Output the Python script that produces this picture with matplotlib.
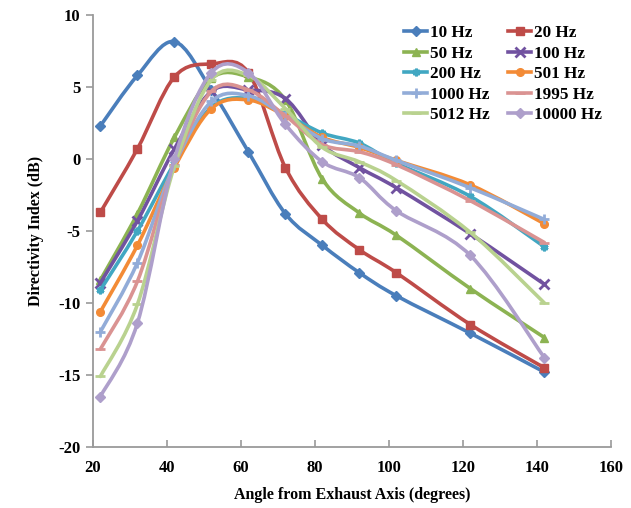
import numpy as np
import matplotlib
matplotlib.use("Agg")
import matplotlib.pyplot as plt
from matplotlib.path import Path
from matplotlib.patches import PathPatch
from matplotlib.lines import Line2D

# angle from exhaust axis (degrees)
angles = [22, 32, 42, 52, 62, 72, 82, 92, 102, 122, 142]

# directivity index (dB) per band
hz_10 = [2.3, 5.8, 8.15, 4.8, 0.5, -3.8, -6.0, -7.9, -9.5, -12.1, -14.8]
hz_20 = [-3.7, 0.7, 5.7, 6.6, 6.0, -0.6, -4.2, -6.3, -7.9, -11.5, -14.5]
hz_50 = [-8.4, -3.8, 1.5, 5.6, 5.7, 4.1, -1.4, -3.75, -5.3, -9.0, -12.4]
hz_100 = [-8.6, -4.3, 0.7, 4.7, 4.8, 4.2, 1.0, -0.6, -2.0, -5.2, -8.7]
hz_200 = [-9.1, -5.0, -0.3, 3.6, 4.2, 3.1, 1.8, 1.1, -0.3, -2.6, -6.1]
hz_501 = [-10.6, -6.0, -0.6, 3.5, 4.1, 3.0, 1.5, 0.8, -0.1, -1.8, -4.5]
hz_1000 = [-12.0, -7.2, -0.4, 4.0, 4.4, 3.0, 1.4, 0.9, -0.1, -2.0, -4.2]
hz_1995 = [-13.2, -8.5, -0.4, 4.7, 4.8, 3.0, 1.0, 0.5, -0.4, -2.9, -5.8]
hz_5012 = [-15.1, -10.1, -0.5, 5.5, 5.8, 3.5, 0.8, -0.2, -1.5, -5.1, -10.0]
hz_10000 = [-16.5, -11.4, 0.0, 6.0, 6.0, 2.4, -0.2, -1.3, -3.6, -6.7, -13.8]

labels = ["10 Hz", "20 Hz", "50 Hz", "100 Hz", "200 Hz", "501 Hz",
          "1000 Hz", "1995 Hz", "5012 Hz", "10000 Hz"]
series = [hz_10, hz_20, hz_50, hz_100, hz_200, hz_501,
          hz_1000, hz_1995, hz_5012, hz_10000]
colors = ["#4A7EBB", "#BE4B48", "#8CB352", "#7152A0", "#41A7C2", "#F38B36",
          "#92ACD8", "#DA9392", "#B9D28F", "#AE9FCB"]
markers = ["D", "s", "^", "x", (6, 2, 0), "o", "+", "_", "_", "D"]


def smooth_path(x, y):
    # Excel-style smoothed line as cubic bezier segments
    pts = np.column_stack([x, y]).astype(float)
    n = len(pts)
    verts = [pts[0]]
    codes = [Path.MOVETO]
    for i in range(n - 1):
        p0 = pts[i - 1] if i > 0 else pts[i]
        p1 = pts[i]
        p2 = pts[i + 1]
        p3 = pts[i + 2] if i + 2 < n else pts[i + 1]
        verts += [p1 + (p2 - p0) / 6.0, p2 - (p3 - p1) / 6.0, p2]
        codes += [Path.CURVE4] * 3
    return Path(verts, codes)


plt.rcParams['font.family'] = ['Liberation Serif', 'DejaVu Serif']
plt.rcParams['font.weight'] = 'bold'

fig = plt.figure(figsize=(6.31, 5.08), dpi=100)
ax = fig.add_axes([93 / 631, 1 - 447 / 508, (611 - 93) / 631, (447 - 15) / 508])

handles = []
for i, (vals, lab, col, mk) in enumerate(zip(series, labels, colors, markers)):
    patch = PathPatch(smooth_path(angles, vals), facecolor='none', edgecolor=col,
                      lw=2.6, zorder=2 + i * 0.1, capstyle='round', joinstyle='round')
    ax.add_patch(patch)
    ms = 5.5 if mk not in ("x", "+", "_") else 7
    mew = 2 if mk in ("x", "+", "_", (6, 2, 0)) else 1
    ax.plot(angles, vals, linestyle='none', marker=mk, color=col, markersize=ms,
            markeredgewidth=mew, zorder=2.05 + i * 0.1)
    handles.append(Line2D([], [], color=col, lw=2.6, marker=mk, markersize=ms,
                          markeredgewidth=mew))

ax.set_xlim(20, 160)
ax.set_ylim(-20, 10)
ax.set_xticks(np.arange(20, 161, 20))
ax.set_yticks(np.arange(-20, 11, 5))
ax.set_yticklabels([str(v) for v in range(-20, 11, 5)])

for s in ['top', 'right']:
    ax.spines[s].set_visible(False)
for s in ['left', 'bottom']:
    ax.spines[s].set_color('#9a9a9a')
    ax.spines[s].set_linewidth(1.3)

ax.tick_params(axis='x', direction='in', length=5, color='#9a9a9a', width=1.2,
               labelsize=12, pad=9)
ax.tick_params(axis='y', direction='out', length=5, color='#9a9a9a', width=1.2,
               labelsize=12, pad=4)

ax.set_xlabel("Angle from Exhaust Axis (degrees)", fontsize=11.5, fontweight='bold', labelpad=8)
ax.set_ylabel("Directivity Index (dB)", fontsize=11.5, fontweight='bold', labelpad=10)

# legend fills row by row like the original: reorder for matplotlib's column fill
order = [0, 2, 4, 6, 8, 1, 3, 5, 7, 9]
ax.legend([handles[k] for k in order], [labels[k] for k in order], ncol=2,
          frameon=False, fontsize=12.3,
          loc='upper left', bbox_to_anchor=(404 / 631, 1 - 25 / 508),
          bbox_transform=fig.transFigure, borderpad=0, borderaxespad=0,
          handlelength=1.35, handletextpad=0.15, labelspacing=0.27,
          columnspacing=1.1)

fig.savefig("out.png", dpi=100)
